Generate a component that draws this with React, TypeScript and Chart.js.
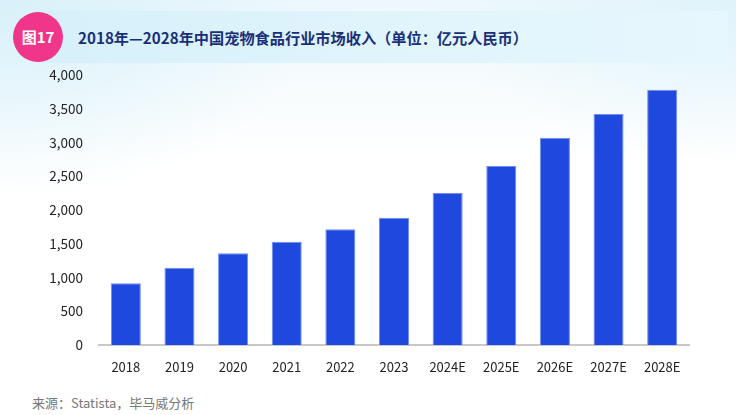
import { useEffect, useRef } from "react"
import { Chart, registerables } from "chart.js"

Chart.register(...registerables)

// Data
const years = ["2018", "2019", "2020", "2021", "2022", "2023", "2024E", "2025E", "2026E", "2027E", "2028E"]
const revenue = [915, 1145, 1358, 1531, 1714, 1881, 2252, 2652, 3067, 3422, 3782]

const FONT = '"Noto Sans CJK SC", "Noto Sans", sans-serif'

function RevenueChart() {
  const chartRef = useRef<HTMLCanvasElement>(null)
  const chartInstance = useRef<Chart | null>(null)

  useEffect(() => {
    if (!chartRef.current) return
    if (chartInstance.current) chartInstance.current.destroy()
    const ctx = chartRef.current.getContext("2d")
    if (!ctx) return

    chartInstance.current = new Chart(ctx, {
      type: "bar",
      data: {
        labels: years,
        datasets: [
          {
            label: "收入",
            data: revenue,
            backgroundColor: "#1f48de",
            borderColor: "#6f8ef0",
            borderWidth: { top: 1, left: 1, right: 1, bottom: 0 },
            categoryPercentage: 1,
            barPercentage: 0.56,
          },
        ],
      },
      options: {
        animation: false,
        responsive: false,
        maintainAspectRatio: false,
        layout: { padding: { top: 15, right: 47, left: 0, bottom: 0 } },
        plugins: {
          legend: { display: false },
          tooltip: { enabled: false },
        },
        scales: {
          x: {
            grid: { display: false, drawTicks: false },
            border: { display: true, color: "#c8c8c8", width: 2 },
            ticks: {
              color: "#222",
              font: { family: FONT, size: 13 },
              padding: 14,
              maxRotation: 0,
            },
            afterFit: (scale: any) => {
              scale.height = 45
            },
          },
          y: {
            min: 0,
            max: 4000,
            grid: { display: false, drawTicks: false },
            border: { display: false },
            ticks: {
              stepSize: 500,
              color: "#222",
              font: { family: FONT, size: 13.5 },
              padding: 16,
              callback: (v: any) => Number(v).toLocaleString("en-US"),
            },
            afterFit: (scale: any) => {
              scale.width = 99
              // keep the tick padding from pushing the plot top down
              scale.paddingTop = 8
              scale.paddingBottom = 8
            },
          },
        },
      },
    })

    return () => {
      if (chartInstance.current) chartInstance.current.destroy()
    }
  }, [])

  return <canvas ref={chartRef} width={736} height={330} style={{ position: "absolute", left: 0, top: 60, width: 736, height: 330, display: "block" }} />
}

export default function App() {
  return (
    <div
      style={{
        position: "fixed",
        left: 0,
        top: 0,
        width: 736,
        height: 415,
        overflow: "hidden",
        fontFamily: FONT,
        background:
          "radial-gradient(ellipse 320px 200px at 0px 0px, rgba(214,240,250,0.9), rgba(255,255,255,0) 100%), radial-gradient(ellipse 300px 160px at 736px 0px, rgba(220,242,250,0.8), rgba(255,255,255,0) 100%), linear-gradient(180deg, #eef8fc 0px, #ffffff 160px)",
      }}
    >
      {/* title band */}
      <div
        style={{
          position: "absolute",
          left: 36,
          top: 11,
          width: 692,
          height: 52,
          background: "linear-gradient(90deg, #d6f0fa 0%, #e2f5fc 60%, #e6f7fd 100%)",
        }}
      />
      <div
        style={{
          position: "absolute",
          left: 13,
          top: 12,
          width: 50,
          height: 50,
          borderRadius: "50%",
          background: "#f0368a",
          color: "#fff",
          fontWeight: 700,
          fontSize: 15,
          lineHeight: "50px",
          textAlign: "center",
        }}
      >
        图17
      </div>
      <div
        style={{
          position: "absolute",
          left: 78,
          top: 26,
          fontSize: 15.2,
          lineHeight: "22px",
          fontWeight: 700,
          color: "#1b2f78",
          whiteSpace: "nowrap",
        }}
      >
        2018年—2028年中国宠物食品行业市场收入（单位：亿元人民币）
      </div>
      <RevenueChart />
      <div
        style={{
          position: "absolute",
          left: 32,
          top: 393,
          fontSize: 13,
          lineHeight: "20px",
          color: "#777",
          whiteSpace: "nowrap",
        }}
      >
        来源：Statista，毕马威分析
      </div>
    </div>
  )
}
